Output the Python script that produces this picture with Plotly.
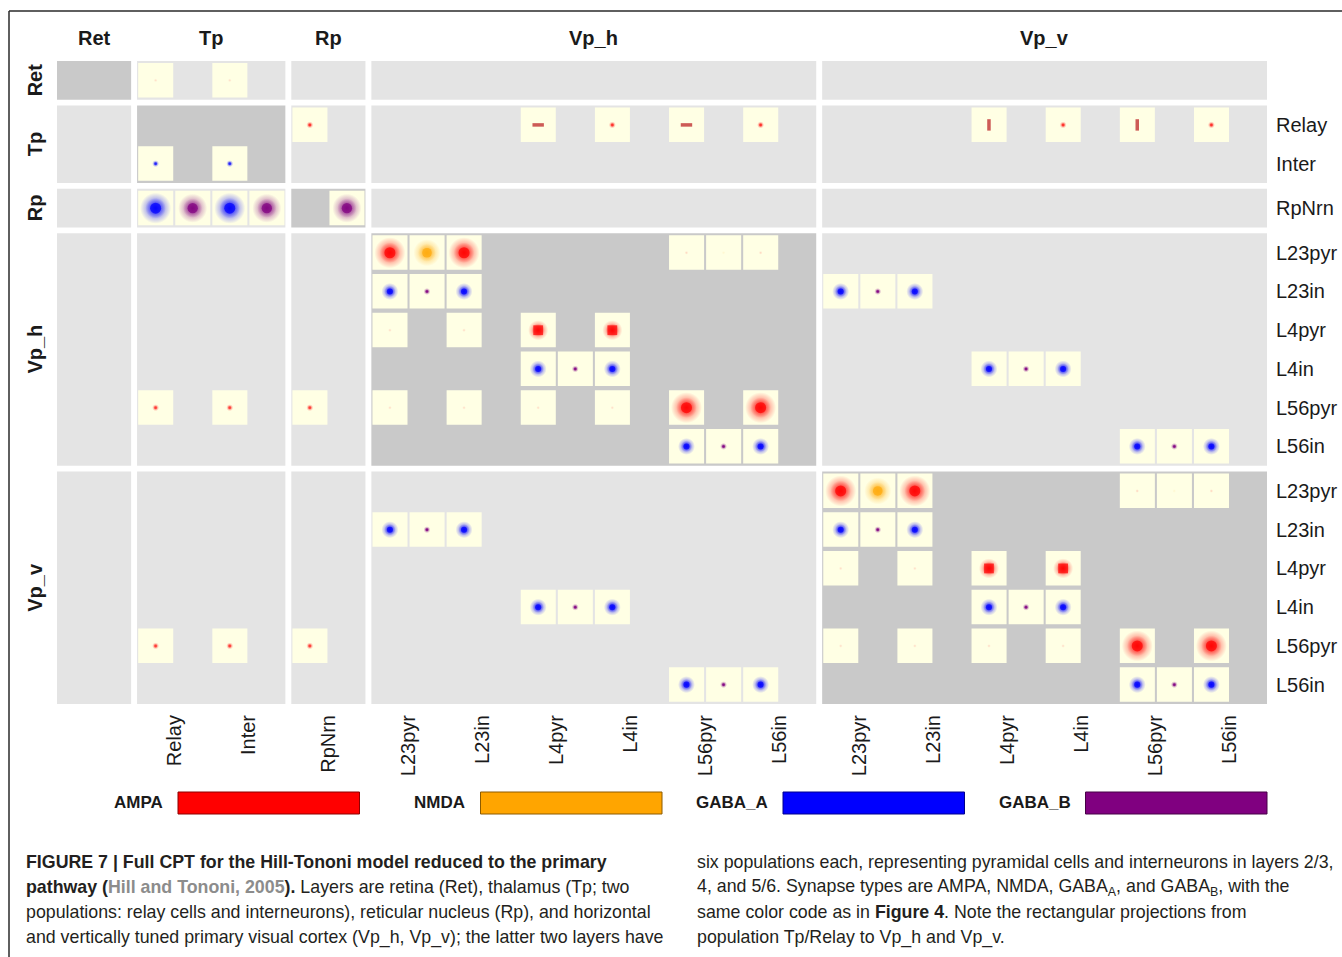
import plotly.graph_objects as go

# ---------------------------------------------------------------------------
# Network: layers, populations, synapse types
# ---------------------------------------------------------------------------
GROUPS = ["Ret", "Tp", "Rp", "Vp_h", "Vp_v"]
TP_POPS = ["Relay", "Inter"]
RP_POPS = ["RpNrn"]
VP_POPS = ["L23pyr", "L23in", "L4pyr", "L4in", "L56pyr", "L56in"]
MEMBERS = {"Ret": ["Ret"], "Tp": TP_POPS, "Rp": RP_POPS,
           "Vp_h": VP_POPS, "Vp_v": VP_POPS}

SYNAPSES = ["AMPA", "NMDA", "GABA_A", "GABA_B"]
SYN_COLORS = ["#FF0000", "#FFA500", "#0000FF", "#800080"]

# Connections: (source, target, slot in target column, synapse,
#               kernel extent [cell units], peak strength, mask)
thalamic_conns = [
    ("Ret", "Tp/Relay", 0, "AMPA", 0.04, 0.12, "circ"),
    ("Ret", "Tp/Inter", 0, "AMPA", 0.04, 0.12, "circ"),
    ("Tp/Relay", "Rp/RpNrn", 0, "AMPA", 0.07, 0.85, "circ"),
    ("Tp/Relay", "Vp_h/L4pyr", 0, "AMPA", 0.11, 0.85, "bar_h"),
    ("Tp/Relay", "Vp_h/L4in", 0, "AMPA", 0.07, 0.85, "circ"),
    ("Tp/Relay", "Vp_h/L56pyr", 0, "AMPA", 0.11, 0.85, "bar_h"),
    ("Tp/Relay", "Vp_h/L56in", 0, "AMPA", 0.07, 0.85, "circ"),
    ("Tp/Relay", "Vp_v/L4pyr", 0, "AMPA", 0.11, 0.85, "bar_v"),
    ("Tp/Relay", "Vp_v/L4in", 0, "AMPA", 0.07, 0.85, "circ"),
    ("Tp/Relay", "Vp_v/L56pyr", 0, "AMPA", 0.11, 0.85, "bar_v"),
    ("Tp/Relay", "Vp_v/L56in", 0, "AMPA", 0.07, 0.85, "circ"),
    ("Tp/Inter", "Tp/Relay", 0, "GABA_A", 0.07, 0.9, "circ"),
    ("Tp/Inter", "Tp/Inter", 0, "GABA_A", 0.07, 0.9, "circ"),
    ("Rp/RpNrn", "Tp/Relay", 0, "GABA_A", 0.31, 1.0, "circ"),
    ("Rp/RpNrn", "Tp/Relay", 1, "GABA_B", 0.29, 1.0, "circ"),
    ("Rp/RpNrn", "Tp/Inter", 0, "GABA_A", 0.31, 1.0, "circ"),
    ("Rp/RpNrn", "Tp/Inter", 1, "GABA_B", 0.29, 1.0, "circ"),
    ("Rp/RpNrn", "Rp/RpNrn", 1, "GABA_B", 0.29, 1.0, "circ"),
]

# layer 5/6 pyramidal feedback to thalamus and reticular nucleus (both areas)
corticothalamic_conns = [
    ("L56pyr", "Tp/Relay", 0, "AMPA", 0.07, 0.8, "circ"),
    ("L56pyr", "Tp/Inter", 0, "AMPA", 0.07, 0.8, "circ"),
    ("L56pyr", "Rp/RpNrn", 0, "AMPA", 0.07, 0.8, "circ"),
]

# connections within one cortical area (same for Vp_h and Vp_v)
intra_conns = [
    ("L23pyr", "L23pyr", 0, "AMPA", 0.31, 1.0, "circ"),
    ("L23pyr", "L23pyr", 1, "NMDA", 0.27, 0.95, "circ"),
    ("L23pyr", "L23in", 0, "AMPA", 0.31, 1.0, "circ"),
    ("L23pyr", "L56pyr", 0, "AMPA", 0.04, 0.15, "circ"),
    ("L23pyr", "L56pyr", 1, "NMDA", 0.04, 0.08, "circ"),
    ("L23pyr", "L56in", 0, "AMPA", 0.04, 0.15, "circ"),
    ("L23in", "L23pyr", 0, "GABA_A", 0.17, 1.0, "circ"),
    ("L23in", "L23pyr", 1, "GABA_B", 0.07, 1.0, "circ"),
    ("L23in", "L23in", 0, "GABA_A", 0.17, 1.0, "circ"),
    ("L4pyr", "L23pyr", 0, "AMPA", 0.04, 0.12, "circ"),
    ("L4pyr", "L23in", 0, "AMPA", 0.04, 0.12, "circ"),
    ("L4pyr", "L4pyr", 0, "AMPA", 0.20, 1.0, "rect"),
    ("L4pyr", "L4in", 0, "AMPA", 0.20, 1.0, "rect"),
    ("L4in", "L4pyr", 0, "GABA_A", 0.17, 1.0, "circ"),
    ("L4in", "L4pyr", 1, "GABA_B", 0.07, 1.0, "circ"),
    ("L4in", "L4in", 0, "GABA_A", 0.17, 1.0, "circ"),
    ("L56pyr", "L23pyr", 0, "AMPA", 0.04, 0.12, "circ"),
    ("L56pyr", "L23in", 0, "AMPA", 0.04, 0.12, "circ"),
    ("L56pyr", "L4pyr", 0, "AMPA", 0.04, 0.12, "circ"),
    ("L56pyr", "L4in", 0, "AMPA", 0.04, 0.12, "circ"),
    ("L56pyr", "L56pyr", 0, "AMPA", 0.31, 1.0, "circ"),
    ("L56pyr", "L56in", 0, "AMPA", 0.31, 1.0, "circ"),
    ("L56in", "L56pyr", 0, "GABA_A", 0.17, 1.0, "circ"),
    ("L56in", "L56pyr", 1, "GABA_B", 0.07, 1.0, "circ"),
    ("L56in", "L56in", 0, "GABA_A", 0.17, 1.0, "circ"),
]

# inhibitory connections from one cortical area to the other
cross_conns = [
    ("L23in", "L23pyr", 0, "GABA_A", 0.17, 1.0, "circ"),
    ("L23in", "L23pyr", 1, "GABA_B", 0.07, 1.0, "circ"),
    ("L23in", "L23in", 0, "GABA_A", 0.17, 1.0, "circ"),
    ("L4in", "L4pyr", 0, "GABA_A", 0.17, 1.0, "circ"),
    ("L4in", "L4pyr", 1, "GABA_B", 0.07, 1.0, "circ"),
    ("L4in", "L4in", 0, "GABA_A", 0.17, 1.0, "circ"),
    ("L56in", "L56pyr", 0, "GABA_A", 0.17, 1.0, "circ"),
    ("L56in", "L56pyr", 1, "GABA_B", 0.07, 1.0, "circ"),
    ("L56in", "L56in", 0, "GABA_A", 0.17, 1.0, "circ"),
]

conns = list(thalamic_conns)
for area in ["Vp_h", "Vp_v"]:
    for s, t, *rest in corticothalamic_conns:
        conns.append((f"{area}/{s}", t, *rest))
    for s, t, *rest in intra_conns:
        conns.append((f"{area}/{s}", f"{area}/{t}", *rest))
for a, b in [("Vp_h", "Vp_v"), ("Vp_v", "Vp_h")]:
    for s, t, *rest in cross_conns:
        conns.append((f"{a}/{s}", f"{b}/{t}", *rest))

# ---------------------------------------------------------------------------
# Table geometry
# ---------------------------------------------------------------------------
W, H = 1342, 957
ML, MR, MT, MB = 57, 75, 61, 253
PW, PH = W - ML - MR, H - MT - MB
SLOTS = 2          # sub-columns per target population
GAP_X, GAP_Y = 0.16, 0.15

LIGHT_BG = "#E4E4E4"
DARK_BG = "#C9C9C9"
CREAM = "#FFFFE4"
TEXT = "#1A1A1A"


def layout_groups(unit, gap):
    starts, pos = {}, 0.0
    for g in GROUPS:
        starts[g] = pos
        pos += unit * len(MEMBERS[g]) + gap
    return starts, pos - gap


col_start, XMAX = layout_groups(SLOTS, GAP_X)
row_start, YMAX = layout_groups(1, GAP_Y)
PXU_X = PW / XMAX


def split(name):
    return (name, name) if "/" not in name else tuple(name.split("/"))


def col_of(name):
    g, m = split(name)
    return col_start[g] + SLOTS * MEMBERS[g].index(m)


def row_of(name):
    g, m = split(name)
    return row_start[g] + MEMBERS[g].index(m)


def px_x(p):
    return (p - ML) / PW


def px_y(p):
    return (H - MB - p) / PH


def rgb(c):
    return [int(c[i:i + 2], 16) for i in (1, 3, 5)]


def mix(c1, c2, f):
    a, b = rgb(c1), rgb(c2)
    return "#%02X%02X%02X" % tuple(round(f * u + (1 - f) * v) for u, v in zip(a, b))


def rgba(c, alpha):
    r, g, b = rgb(c)
    return f"rgba({r},{g},{b},{alpha})"


shapes = []
# block backgrounds: intra-layer blocks darker
for gs in GROUPS:
    for gt in GROUPS:
        shapes.append(dict(
            type="rect", layer="below", xref="x", yref="y",
            x0=col_start[gt], x1=col_start[gt] + SLOTS * len(MEMBERS[gt]),
            y0=row_start[gs], y1=row_start[gs] + len(MEMBERS[gs]),
            fillcolor=DARK_BG if gs == gt else LIGHT_BG, line_width=0))

# kernel cells
seen = set()
for src, tgt, slot, *_ in conns:
    key = (src, tgt, slot)
    if key in seen:
        continue
    seen.add(key)
    x0 = col_of(tgt) + slot
    y0 = row_of(src)
    shapes.append(dict(type="rect", layer="below", xref="x", yref="y",
                       x0=x0 + 0.03, x1=x0 + 0.975, y0=y0 + 0.05, y1=y0 + 0.94,
                       fillcolor=CREAM, line_width=0))

# kernel marks
marks = {}
for src, tgt, slot, syn, ext, amp, mask in conns:
    x = col_of(tgt) + slot + 0.5
    y = row_of(src) + 0.5
    color = mix(SYN_COLORS[SYNAPSES.index(syn)], CREAM, amp)
    marks.setdefault(mask, []).append((x, y, ext, color))

fig = go.Figure()

for mask, pts in marks.items():
    xs = [p[0] for p in pts]
    ys = [p[1] for p in pts]
    sizes = [2 * p[2] * PXU_X for p in pts]
    cols = [p[3] for p in pts]
    if mask in ("circ", "rect"):
        sym = "circle" if mask == "circ" else "square"
        core = 0.48 if mask == "circ" else 0.66
        # soft rim: radial fades from opaque centre to a transparent edge
        for scale in (1.35, 0.9):
            fig.add_trace(go.Scatter(
                x=xs, y=ys, mode="markers", hoverinfo="skip", showlegend=False,
                marker=dict(symbol=sym, size=[scale * s for s in sizes],
                            color=[rgba(c, 0) for c in cols], line_width=0,
                            gradient=dict(type="radial", color=cols))))
        # solid kernel centre
        fig.add_trace(go.Scatter(
            x=xs, y=ys, mode="markers", hoverinfo="skip", showlegend=False,
            marker=dict(symbol=sym, size=[core * s for s in sizes],
                        color=cols, line_width=0)))
    else:
        sym = "line-ew" if mask == "bar_h" else "line-ns"
        fig.add_trace(go.Scatter(
            x=xs, y=ys, mode="markers", hoverinfo="skip", showlegend=False,
            marker=dict(symbol=sym, size=sizes,
                        line=dict(color=[mix(c, "#500010", 0.6) for c in cols],
                                  width=3.5))))

# ---------------------------------------------------------------------------
# Labels
# ---------------------------------------------------------------------------
annotations = []
LABEL_FONT = "Liberation Sans, Arial, sans-serif"
CAP_FONT = "Liberation Sans, Arial, sans-serif"

for g in GROUPS:
    n = len(MEMBERS[g])
    annotations.append(dict(
        x=col_start[g] + SLOTS * n / 2, xref="x", y=px_y(38), yref="paper",
        text=f"<b>{g}</b>", showarrow=False, xanchor="center", yanchor="middle",
        font=dict(family=LABEL_FONT, size=20, color=TEXT)))
    annotations.append(dict(
        x=px_x(35), xref="paper", y=row_start[g] + n / 2, yref="y",
        text=f"<b>{g}</b>", showarrow=False, textangle=-90,
        xanchor="center", yanchor="middle",
        font=dict(family=LABEL_FONT, size=20, color=TEXT)))

tick_pos_x, tick_pos_y, tick_text = [], [], []
for g in GROUPS[1:]:
    for m in MEMBERS[g]:
        tick_pos_x.append(col_of(f"{g}/{m}") + SLOTS / 2)
        tick_pos_y.append(row_of(f"{g}/{m}") + 0.5)
        tick_text.append(m)

# synapse colour key
item_w = 1.0 / len(SYNAPSES)
for i, (syn, c) in enumerate(zip(SYNAPSES, SYN_COLORS)):
    x_item = i * item_w
    shapes.append(dict(type="rect", xref="paper", yref="paper",
                       x0=x_item + 0.4 * item_w, x1=x_item + item_w,
                       y0=px_y(814), y1=px_y(792), fillcolor=c,
                       line=dict(color=mix(c, "#000000", 0.55), width=1)))
    annotations.append(dict(
        x=x_item + 0.4 * item_w - px_x(57 + 13), xref="paper",
        y=px_y(803), yref="paper", text=f"<b>{syn}</b>", showarrow=False,
        xanchor="right", yanchor="middle",
        font=dict(family=LABEL_FONT, size=17, color=TEXT)))

# frame around the figure panel
shapes.append(dict(type="line", xref="paper", yref="paper",
                   x0=px_x(9), x1=px_x(W + 5), y0=px_y(11), y1=px_y(11),
                   line=dict(color="#2A2A2A", width=1.5)))
shapes.append(dict(type="line", xref="paper", yref="paper",
                   x0=px_x(9), x1=px_x(9), y0=px_y(11), y1=px_y(H + 5),
                   line=dict(color="#2A2A2A", width=1.5)))

caption_left = [
    "<b>FIGURE 7 | Full CPT for the Hill-Tononi model reduced to the primary</b>",
    "<b>pathway (<span style='color:#8C8C8C'>Hill and Tononi, 2005</span>).</b>"
    " Layers are retina (Ret), thalamus (Tp; two",
    "populations: relay cells and interneurons), reticular nucleus (Rp), and horizontal",
    "and vertically tuned primary visual cortex (Vp_h, Vp_v); the latter two layers have",
]
caption_right = [
    "six populations each, representing pyramidal cells and interneurons in layers 2/3,",
    "4, and 5/6. Synapse types are AMPA, NMDA, GABA<sub>A</sub>, and GABA<sub>B</sub>, with the",
    "same color code as in <b>Figure 4</b>. Note the rectangular projections from",
    "population Tp/Relay to Vp_h and Vp_v.",
]
for col_x, lines in ((24, caption_left), (695, caption_right)):
    for k, line in enumerate(lines):
        annotations.append(dict(
            x=px_x(col_x), xref="paper", y=px_y(862 + 25 * k), yref="paper",
            text=line, showarrow=False, xanchor="left", yanchor="middle",
            font=dict(family=CAP_FONT, size=17.8, color="#231F20")))

fig.update_layout(
    width=W, height=H,
    margin=dict(l=ML, r=MR, t=MT, b=MB, autoexpand=False),
    paper_bgcolor="white", plot_bgcolor="white",
    shapes=shapes, annotations=annotations, showlegend=False,
    xaxis=dict(range=[0, XMAX], showgrid=False, zeroline=False, showline=False,
               tickmode="array", tickvals=tick_pos_x, ticktext=tick_text,
               tickangle=-90, ticks="", ticklabelstandoff=6, automargin=False,
               tickfont=dict(family=LABEL_FONT, size=20, color=TEXT), fixedrange=True),
    yaxis=dict(range=[YMAX, 0], showgrid=False, zeroline=False, showline=False,
               side="right", tickmode="array", tickvals=tick_pos_y, ticktext=tick_text,
               ticks="", ticklabelstandoff=8, automargin=False,
               tickfont=dict(family=LABEL_FONT, size=20, color=TEXT), fixedrange=True),
)

fig.write_html("out.html")
